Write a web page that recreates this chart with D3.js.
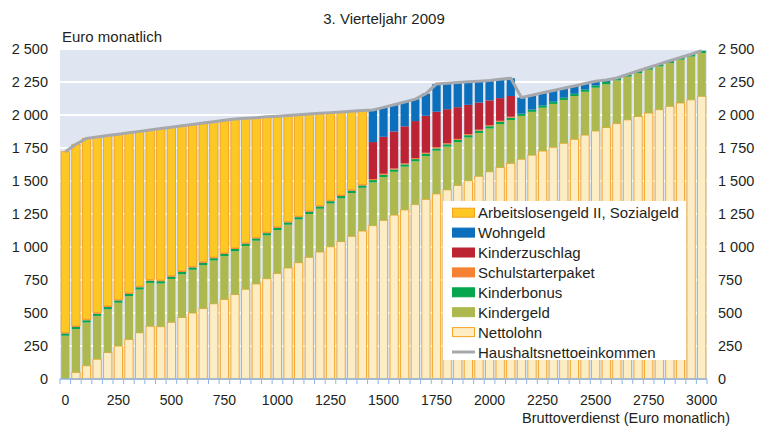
<!DOCTYPE html>
<html>
<head>
<meta charset="utf-8">
<script src="https://cdn.jsdelivr.net/npm/d3@7"></script>
<style>
body { margin: 0; background: #fff; }
svg text { font-family: "Liberation Sans", Arial, sans-serif; fill: #231f20; }
</style>
</head>
<body>
<svg width="765" height="426"></svg>
<script>
// Bruttoverdienst in Euro monatlich (x categories)
const gross = [0, 50, 100, 150, 200, 250, 300, 350, 400, 450,
  500, 550, 600, 650, 700, 750, 800, 850, 900, 950,
  1000, 1050, 1100, 1150, 1200, 1250, 1300, 1350, 1400, 1450,
  1500, 1550, 1600, 1650, 1700, 1750, 1800, 1850, 1900, 1950,
  2000, 2050, 2100, 2150, 2200, 2250, 2300, 2350, 2400, 2450,
  2500, 2550, 2600, 2650, 2700, 2750, 2800, 2850, 2900, 2950,
  3000];

const nettolohn = [0, 50, 100, 150, 200, 250, 300, 350, 400, 396,
  430, 466, 500, 535, 570, 603, 640, 680, 720, 760,
  800, 841, 881, 922, 962, 1002, 1041, 1081, 1121, 1162,
  1202, 1242, 1281, 1321, 1361, 1402, 1433, 1466, 1502, 1536,
  1570, 1603, 1634, 1665, 1696, 1727, 1756, 1786, 1816, 1848,
  1879, 1905, 1935, 1963, 1989, 2015, 2040, 2066, 2091, 2115,
  2142];

const kindergeld = [328, 328, 328, 328, 328, 328, 328, 328, 328, 328,
  328, 328, 328, 328, 328, 328, 328, 328, 328, 328,
  328, 328, 328, 328, 328, 328, 328, 328, 328, 328,
  328, 328, 328, 328, 328, 328, 328, 328, 328, 328,
  328, 328, 328, 328, 328, 328, 328, 328, 328, 328,
  328, 328, 328, 328, 328, 328, 328, 328, 328, 328,
  328];

const kinderbonus = [17, 17, 17, 17, 17, 17, 17, 17, 17, 17,
  17, 17, 17, 17, 17, 17, 17, 17, 17, 17,
  17, 17, 17, 17, 17, 17, 17, 17, 17, 17,
  17, 17, 17, 17, 17, 17, 17, 17, 17, 17,
  17, 17, 17, 17, 17, 17, 17, 17, 17, 17,
  17, 17, 17, 17, 17, 17, 17, 17, 17, 17,
  17];

const schulstarter = [8, 8, 8, 8, 8, 8, 8, 8, 8, 8,
  8, 8, 8, 8, 8, 8, 8, 8, 8, 8,
  8, 8, 8, 8, 8, 8, 8, 8, 8, 8,
  8, 8, 8, 8, 8, 8, 8, 8, 8, 8,
  8, 8, 8, 0, 0, 0, 0, 0, 0, 0,
  0, 0, 0, 0, 0, 0, 0, 0, 0, 0,
  0];

const kinderzuschlag = [0, 0, 0, 0, 0, 0, 0, 0, 0, 0,
  0, 0, 0, 0, 0, 0, 0, 0, 0, 0,
  0, 0, 0, 0, 0, 0, 0, 0, 0, 280,
  280, 280, 280, 280, 280, 270, 258, 240, 222, 205,
  188, 172, 157, 0, 0, 0, 0, 0, 0, 0,
  0, 0, 0, 0, 0, 0, 0, 0, 0, 0,
  0];

const wohngeld = [0, 0, 0, 0, 0, 0, 0, 0, 0, 0,
  0, 0, 0, 0, 0, 0, 0, 0, 0, 0,
  0, 0, 0, 0, 0, 0, 0, 0, 0, 243,
  223, 203, 184, 166, 168, 210, 196, 187, 174, 162,
  151, 142, 134, 122, 109, 96, 84, 72, 59, 45,
  31, 15, 0, 0, 0, 0, 0, 0, 0, 0,
  0];

const alg2 = [1369, 1375, 1370, 1331, 1291, 1252, 1212, 1173, 1133, 1148,
  1124, 1099, 1075, 1051, 1026, 1004, 977, 942, 907, 873,
  838, 803, 768, 732, 698, 663, 629, 595, 560, 0,
  0, 0, 0, 0, 0, 0, 0, 0, 0, 0,
  0, 0, 0, 0, 0, 0, 0, 0, 0, 0,
  0, 0, 0, 0, 0, 0, 0, 0, 0, 0,
  0];

const yTicks = [0, 250, 500, 750, 1000, 1250, 1500, 1750, 2000, 2250, 2500];
const xTicks = [0, 250, 500, 750, 1000, 1250, 1500, 1750, 2000, 2250, 2500, 2750, 3000];

// bottom to top
const series = [
  {key: "nettolohn", label: "Nettolohn", values: nettolohn, fill: "#fcedc5", stroke: "#f6a423"},
  {key: "kindergeld", label: "Kindergeld", values: kindergeld, fill: "#adb94e", stroke: "none"},
  {key: "kinderbonus", label: "Kinderbonus", values: kinderbonus, fill: "#06a64f", stroke: "none"},
  {key: "schulstarter", label: "Schulstarterpaket", values: schulstarter, fill: "#f58233", stroke: "none"},
  {key: "kinderzuschlag", label: "Kinderzuschlag", values: kinderzuschlag, fill: "#bd2433", stroke: "none"},
  {key: "wohngeld", label: "Wohngeld", values: wohngeld, fill: "#0b6fbc", stroke: "none"},
  {key: "alg2", label: "Arbeitslosengeld II, Sozialgeld", values: alg2, fill: "#fec824", stroke: "#f5a01e"}
];

const table = gross.map((g, i) => {
  const row = {gross: g};
  series.forEach(s => { row[s.key] = s.values[i]; });
  return row;
});

const svg = d3.select("svg");
const plotLeft = 60, plotRight = 707, plotTop = 49, plotBottom = 379;

const x = d3.scaleBand()
  .domain(gross)
  .range([plotLeft, plotRight])
  .paddingInner(0.22)
  .paddingOuter(0.11);

const y = d3.scaleLinear().domain([0, 2500]).range([plotBottom, plotTop]);

const fmt = d3.formatLocale({decimal: ",", thousands: " ", grouping: [3], currency: ["", " €"]}).format(",");

// plot background + white grid
svg.append("rect")
  .attr("x", plotLeft).attr("y", plotTop)
  .attr("width", plotRight - plotLeft).attr("height", plotBottom - plotTop)
  .attr("fill", "#dfe6f2");

svg.append("g").selectAll("line").data(yTicks.slice(1))
  .enter().append("line")
    .attr("x1", plotLeft).attr("x2", plotRight)
    .attr("y1", d => y(d)).attr("y2", d => y(d))
    .attr("stroke", "#fff").attr("stroke-width", 2);

const stack = d3.stack().keys(series.map(s => s.key));
const layers = stack(table);

svg.append("g").selectAll("g").data(layers)
  .enter().append("g")
    .each(function(layer, li) {
      const s = series[li];
      d3.select(this).selectAll("rect")
        .data(layer.filter(d => d[1] - d[0] > 0))
        .enter().append("rect")
          .attr("x", d => x(d.data.gross))
          .attr("width", x.bandwidth())
          .attr("y", d => y(d[1]))
          .attr("height", d => y(d[0]) - y(d[1]))
          .attr("fill", s.fill)
          .attr("stroke", s.stroke)
          .attr("stroke-width", s.stroke === "none" ? 0 : 0.9);
    });

// Haushaltsnettoeinkommen = sum of all parts
const line = d3.line()
  .x(d => x(d.data.gross) + x.bandwidth() / 2)
  .y(d => y(d[1]));

svg.append("path")
  .datum(layers[layers.length - 1])
  .attr("d", line)
  .attr("fill", "none")
  .attr("stroke", "#a7a8ab")
  .attr("stroke-width", 3)
  .attr("stroke-linejoin", "round");

// x axis
const step = x.step();
const axisG = svg.append("g");
axisG.append("line")
  .attr("x1", plotLeft).attr("x2", plotRight)
  .attr("y1", plotBottom).attr("y2", plotBottom)
  .attr("stroke", "#8db3e2").attr("stroke-width", 1.5);
axisG.selectAll("line.tick").data(d3.range(gross.length + 1))
  .enter().append("line")
    .attr("class", "tick")
    .attr("x1", k => plotLeft + k * step).attr("x2", k => plotLeft + k * step)
    .attr("y1", plotBottom).attr("y2", plotBottom + 5)
    .attr("stroke", "#8db3e2").attr("stroke-width", 1);
axisG.selectAll("text").data(xTicks)
  .enter().append("text")
    .attr("x", d => x(d) + x.bandwidth() / 2)
    .attr("y", 404.5)
    .attr("text-anchor", "middle")
    .attr("font-size", 14)
    .text(d => d);

// y labels both sides
svg.append("g").selectAll("text").data(yTicks)
  .enter().append("text")
    .attr("x", 48)
    .attr("y", d => y(d) + 5)
    .attr("text-anchor", "end")
    .attr("font-size", 14.5)
    .text(d => fmt(d));

svg.append("g").selectAll("text").data(yTicks)
  .enter().append("text")
    .attr("x", 718)
    .attr("y", d => y(d) + 5)
    .attr("text-anchor", "start")
    .attr("font-size", 14.5)
    .text(d => fmt(d));

svg.append("text")
  .attr("x", 384).attr("y", 24)
  .attr("text-anchor", "middle")
  .attr("font-size", 15)
  .text("3. Vierteljahr 2009");

svg.append("text")
  .attr("x", 62).attr("y", 42)
  .attr("font-size", 15)
  .text("Euro monatlich");

svg.append("text")
  .attr("x", 730).attr("y", 423)
  .attr("text-anchor", "end")
  .attr("font-size", 14.5)
  .text("Bruttoverdienst (Euro monatlich)");

// legend
const legendItems = series.slice().reverse().concat([{label: "Haushaltsnettoeinkommen", line: true}]);
const lg = svg.append("g");
lg.append("rect")
  .attr("x", 443).attr("y", 201)
  .attr("width", 243).attr("height", 159)
  .attr("fill", "#fff");

const item = lg.selectAll("g").data(legendItems)
  .enter().append("g")
    .attr("transform", (d, i) => "translate(452," + (212.7 + i * 19.9) + ")");

item.filter(d => !d.line).append("rect")
  .attr("x", 0.5).attr("y", -4.5)
  .attr("width", 22).attr("height", 9)
  .attr("fill", d => d.fill)
  .attr("stroke", d => d.stroke === "none" ? d.fill : d.stroke)
  .attr("stroke-width", 1);

item.filter(d => d.line).append("line")
  .attr("x1", 0).attr("x2", 23)
  .attr("y1", 0).attr("y2", 0)
  .attr("stroke", "#a7a8ab").attr("stroke-width", 3);

item.append("text")
  .attr("x", 26).attr("y", 5.5)
  .attr("font-size", 15)
  .text(d => d.label);
</script>
</body>
</html>
